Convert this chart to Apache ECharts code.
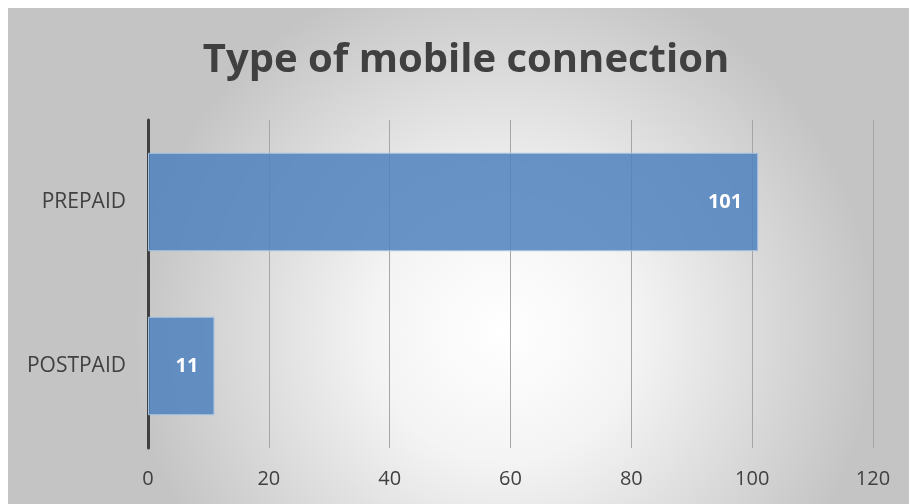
<!DOCTYPE html>
<html>
<head>
<meta charset="utf-8">
<script src="https://cdn.jsdelivr.net/npm/echarts@6/dist/echarts.min.js"></script>
<style>
html,body{margin:0;padding:0;background:#fff;}
#main{width:909px;height:504px;}
</style>
</head>
<body>
<div id="main"></div>
<script>
const titleText = 'Type of mobile connection';
const categories = ['POSTPAID', 'PREPAID'];
const values = [11, 101];
const axisMin = 0, axisMax = 120, axisStep = 20;

const chart = echarts.init(document.getElementById('main'), null, {renderer: 'canvas'});
const font = 'Open Sans';
chart.setOption({
  animation: false,
  graphic: [{
    type: 'rect', z: -10, silent: true,
    shape: {x: 8, y: 8, width: 901, height: 496},
    style: {
      fill: new echarts.graphic.RadialGradient(0.55, 0.65, 0.75, [
        {offset: 0, color: '#ffffff'},
        {offset: 0.35, color: '#f4f4f4'},
        {offset: 1, color: '#c4c4c4'}
      ])
    }
  }],
  title: {
    text: titleText,
    left: 461, textAlign: 'center',
    top: 36,
    textStyle: {fontFamily: font, fontWeight: 'bold', fontSize: 40, color: '#404040'}
  },
  grid: {left: 148, right: 36, top: 120, bottom: 56, containLabel: false},
  xAxis: {
    type: 'value', min: axisMin, max: axisMax, interval: axisStep,
    axisLine: {show: false}, axisTick: {show: false},
    splitLine: {show: true, lineStyle: {color: '#a6a6a6', width: 1}},
    axisLabel: {fontFamily: font, fontSize: 20, color: '#404040', margin: 21}
  },
  yAxis: {
    type: 'category', data: categories,
    axisLine: {show: true, lineStyle: {color: '#404040', width: 3}},
    axisTick: {show: false},
    axisLabel: {fontFamily: font, fontSize: 21, color: '#404040', margin: 22}
  },
  series: [{
    type: 'bar', data: values, barWidth: '60%',
    itemStyle: {color: 'rgba(79,129,189,0.85)', borderColor: '#a9c2e0', borderWidth: 1},
    label: {show: true, position: 'insideRight', distance: 16,
      fontFamily: font, fontWeight: 'bold', fontSize: 20, color: '#ffffff'},
    z: 2
  }]
});
</script>
</body>
</html>
